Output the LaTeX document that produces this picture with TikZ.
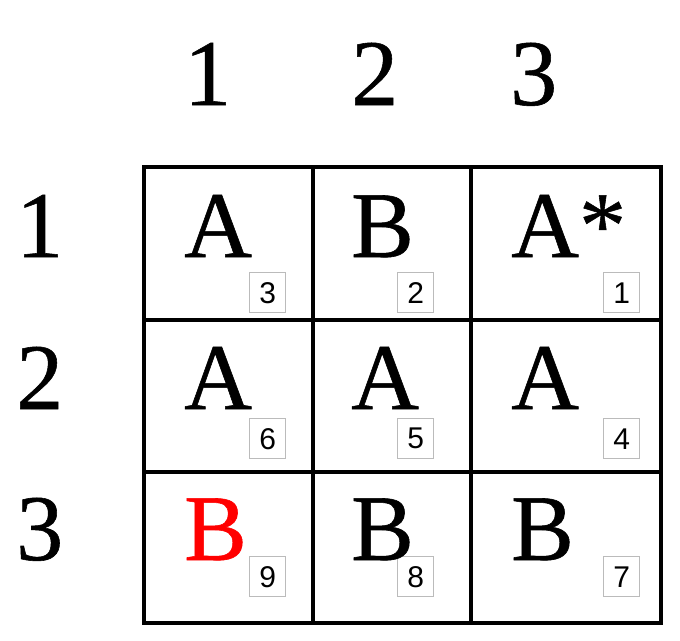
\documentclass[tikz,border=0pt]{standalone}
\usepackage{fontspec}
\setmainfont{Liberation Serif}
\newfontfamily\bigfont{Liberation Serif}[FakeBold=0.6]
\newfontfamily\boxfont{Liberation Sans}
\definecolor{boxgray}{HTML}{BBBBBB}
\begin{document}
\begin{tikzpicture}[x=1pt,y=-1pt,
  big/.style={anchor=base west,inner sep=0pt,font=\bigfont\fontsize{94}{94}\selectfont},
  idxbox/.style={draw=boxgray,line width=1.4pt,fill=white,minimum width=36pt,minimum height=40pt,inner sep=0pt,anchor=north west,font=\boxfont\fontsize{30}{30}\selectfont},
  gridline/.style={line width=3.6pt}]
\useasboundingbox (0,0) rectangle (680,640);
% grid
\coordinate (g00) at (144,167);
\coordinate (g33) at (661,623);
\draw[gridline] (g00) rectangle (g33);
\draw[gridline] (313,167) -- (313,623);
\draw[gridline] (471,167) -- (471,623);
\draw[gridline] (144,320) -- (661,320);
\draw[gridline] (144,472) -- (661,472);
% headers
\node[big] (h1) at (184,105) {1};
\node[big] (h2) at (351,105) {2};
\node[big] (h3) at (510,105) {3};
\node[big] (r1) at (16,257) {1};
\node[big] (r2) at (16,409) {2};
\node[big] (r3) at (16,560) {3};
% index boxes
\node[idxbox] (b3) at (249,272) {3};
\node[idxbox] (b2) at (397,272) {2};
\node[idxbox] (b1) at (603,272) {1};
\node[idxbox] (b6) at (249,418) {6};
\node[idxbox] (b5) at (397,418) {5};
\node[idxbox] (b4) at (603,418) {4};
\node[idxbox] (b9) at (249,556) {9};
\node[idxbox] (b8) at (397,556) {8};
\node[idxbox] (b7) at (603,556) {7};
% letters
\node[big] (c11) at (184,257) {A};
\node[big] (c12) at (351,257) {B};
\node[big] (c13) at (511,257) {A*};
\node[big] (c21) at (184,409) {A};
\node[big] (c22) at (351,409) {A};
\node[big] (c23) at (511,409) {A};
\node[big,text=red] (c31) at (184,560) {B};
\node[big] (c32) at (351,560) {B};
\node[big] (c33) at (511,560) {B};
\end{tikzpicture}
\end{document}
